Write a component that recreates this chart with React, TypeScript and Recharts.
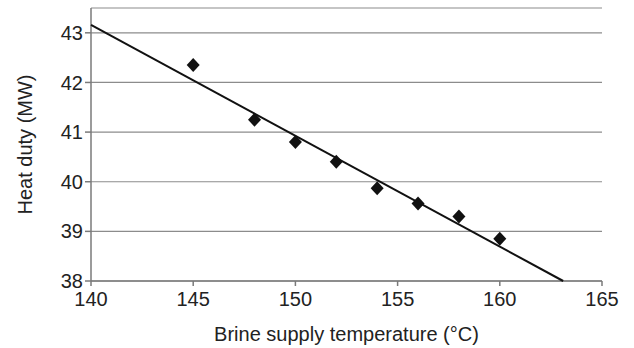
import { ScatterChart, Scatter, XAxis, YAxis, CartesianGrid } from "recharts";

const temps = [145, 148, 150, 152, 154, 156, 158, 160];
const duties = [42.35, 41.25, 40.8, 40.4, 39.87, 39.56, 39.3, 38.85];
const trendX = [140, 163.1];
const trendY = [43.16, 38];
const xTicks = [140, 145, 150, 155, 160, 165];
const yTicks = [38, 39, 40, 41, 42, 43];

const points = temps.map((t, i) => ({ x: t, y: duties[i] }));
const trend = trendX.map((t, i) => ({ x: t, y: trendY[i] }));

const axisColor = "#7a7a7a";
const gridColor = "#8c8c8c";
const textColor = "#222";
const font = "'Liberation Sans', Arial, sans-serif";

const Diamond = (props: any) => {
  const { cx, cy } = props;
  if (cx == null || cy == null) return <g />;
  const w = 6.5;
  const h = 7;
  return <polygon points={`${cx},${cy - h} ${cx + w},${cy} ${cx},${cy + h} ${cx - w},${cy}`} fill="#111" />;
};

export default function App() {
  return (
    <div style={{ position: "absolute", left: 0, top: 0, background: "#fff", fontFamily: font }}>
      <ScatterChart width={634} height={348} margin={{ top: 8, right: 32, bottom: 0, left: 0 }}>
        <CartesianGrid vertical={false} stroke={gridColor} strokeWidth={1.2} />
        <XAxis
          type="number"
          dataKey="x"
          domain={[140, 165]}
          ticks={xTicks}
          height={67}
          stroke={axisColor}
          strokeWidth={1.5}
          tickSize={5}
          tickMargin={6}
          tick={{ fill: textColor, fontSize: 20, fontFamily: font }}
          label={{ value: "Brine supply temperature (°C)", position: "insideBottom", offset: 7, fill: textColor, fontSize: 20, fontFamily: font }}
        />
        <YAxis
          type="number"
          dataKey="y"
          domain={[38, 43.5]}
          ticks={yTicks}
          width={91}
          stroke={axisColor}
          strokeWidth={1.5}
          tickSize={6}
          tick={{ fill: textColor, fontSize: 20, fontFamily: font }}
          label={{ value: "Heat duty (MW)", angle: -90, position: "insideLeft", offset: 25, fill: textColor, fontSize: 20, fontFamily: font, style: { textAnchor: "middle" } }}
        />
        <Scatter data={trend} line={{ stroke: "#111", strokeWidth: 2 }} shape={() => <g />} isAnimationActive={false} />
        <Scatter data={points} shape={Diamond} isAnimationActive={false} />
      </ScatterChart>
    </div>
  );
}
